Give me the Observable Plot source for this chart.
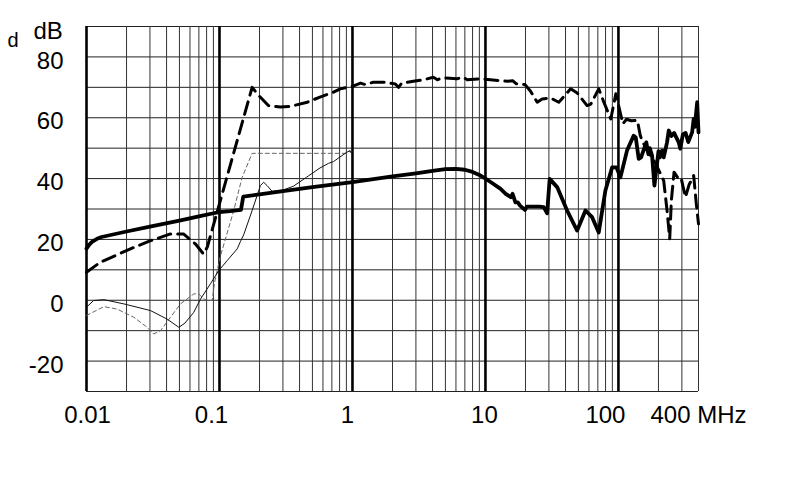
<!DOCTYPE html>
<html>
<head>
<meta charset="utf-8">
<script src="https://cdn.jsdelivr.net/npm/d3@7"></script>
<script src="https://cdn.jsdelivr.net/npm/@observablehq/plot@0.6"></script>
<style>
  html, body { margin: 0; padding: 0; background: #fff; }
  #chart { width: 790px; height: 483px; }
</style>
</head>
<body>
<div id="chart"></div>
<script>
// ---------- data ----------
const xTicks = [0.01, 0.1, 1, 10, 100, 400];
const xTickLabels = ["0.01", "0.1", "1", "10", "100", "400 MHz"];
const yTicks = [-20, 0, 20, 40, 60, 80];
const yTickLabels = ["-20", "0", "20", "40", "60", "80"];
const yUnit = "dB";
const cornerLetter = "d";

// thick solid curve
const thickSolidF  = [0.01, 0.0105, 0.011, 0.012, 0.013, 0.02, 0.03, 0.05, 0.07, 0.09, 0.1, 0.12, 0.145, 0.151, 0.2, 0.3, 0.5, 1, 2, 3, 4, 5, 6, 7, 8, 9, 10, 11, 13, 14.2, 15.5, 16, 16.8, 17.5, 18.2, 19.8, 20.5, 22, 25.5, 27.4, 29.1, 30.4, 34.6, 41.1, 48.9, 56.5, 63.4, 71.1, 79.8, 89.7, 96.6, 103.5, 116, 130, 135, 142, 148, 162, 168, 172, 179, 186.5, 195, 200, 205, 213, 219, 232, 239, 250, 262, 284, 292, 305, 320, 335, 358, 368, 375, 391, 400];
const thickSolidDb = [17, 18.3, 19.2, 20.2, 20.8, 22.6, 24.2, 26.2, 27.6, 28.6, 29.0, 29.3, 29.7, 34.1, 34.8, 35.9, 37.2, 38.8, 40.7, 41.7, 42.5, 43.1, 43.2, 42.9, 42.2, 41.2, 40.0, 38.8, 36.6, 35.0, 33.9, 35.0, 32.2, 32.2, 31.1, 29.7, 30.8, 30.8, 30.8, 30.6, 28.6, 39.9, 37.2, 29.5, 22.9, 29.5, 27.3, 22.3, 36.1, 43.7, 43.7, 40.4, 49.2, 54.1, 53.5, 46.5, 47.0, 51.9, 48.0, 50.0, 47.6, 37.7, 44.8, 49.0, 47.0, 49.2, 47.0, 51.9, 55.8, 54.0, 55.0, 51.9, 49.8, 54.5, 55.0, 52.0, 55.2, 59.6, 57.0, 65.1, 55.2];

// thick dashed curve
const thickDashF  = [0.01, 0.0127, 0.0214, 0.03, 0.0428, 0.0536, 0.066, 0.0758, 0.081, 0.176, 0.192, 0.233, 0.287, 0.34, 0.457, 0.57, 0.72, 0.81, 1.02, 1.15, 1.25, 1.44, 1.72, 2.1, 2.22, 2.35, 2.87, 3.44, 4.06, 4.35, 4.76, 6.1, 6.8, 7.3, 9.2, 10.9, 14.6, 16, 17, 19.8, 21.7, 24.5, 26.7, 30.9, 35.6, 43.7, 49, 58.1, 62, 71.1, 77.7, 87.6, 95.6, 108, 115, 125, 139, 146, 160, 190, 219, 232, 243, 250, 262, 278, 295, 319, 340, 368, 385, 400];
const thickDashDb = [9.2, 12.5, 16.9, 19.5, 21.8, 21.8, 18.5, 15.2, 17.5, 70.0, 67.9, 64.0, 63.5, 63.7, 65.1, 66.8, 68.4, 69.5, 70.5, 71.4, 70.9, 71.7, 71.7, 71.1, 70.0, 71.4, 72.0, 72.5, 73.3, 72.5, 73.1, 72.8, 73.3, 72.5, 72.8, 72.5, 72.0, 72.2, 71.2, 70.9, 68.9, 65.1, 66.2, 66.5, 65.1, 69.5, 68.1, 64.0, 64.5, 69.5, 65.1, 59.6, 67.9, 58.0, 59.5, 59.0, 59.1, 54.1, 50.0, 45.0, 39.3, 29.5, 20.2, 32.8, 42.1, 40.4, 40.5, 33.9, 38.0, 41.0, 31.7, 25.1];

// thin solid curve
const thinSolidF  = [0.01, 0.0113, 0.0135, 0.0191, 0.0303, 0.0404, 0.0495, 0.055, 0.064, 0.072, 0.0855, 0.0986, 0.114, 0.136, 0.144, 0.152, 0.176, 0.203, 0.215, 0.228, 0.249, 0.3, 0.36, 0.45, 0.57, 0.66, 0.72, 0.8, 0.91, 0.96, 0.98, 1.0];
const thinSolidDb = [-2.3, -0.1, 0.2, -1.2, -3.4, -6.2, -8.9, -7.5, -4.0, 0.4, 5.4, 9.7, 13.0, 16.9, 19.4, 21.5, 29.5, 37.7, 38.8, 37.7, 35.8, 36.2, 37.5, 40.4, 43.5, 45.0, 45.6, 47.0, 48.7, 49.2, 48.5, 49.0];

// thin dashed curve
const thinDashF  = [0.01, 0.0135, 0.017, 0.0227, 0.0286, 0.032, 0.036, 0.0428, 0.0509, 0.0641, 0.0698, 0.0761, 0.083, 0.0882, 0.092, 0.101, 0.128, 0.148, 0.176, 0.5, 0.91, 0.94, 0.97, 1.0];
const thinDashDb = [-5.0, -2.1, -2.9, -5.6, -8.9, -11.1, -10.0, -5.6, -1.2, 2.1, 2.1, 0.4, -0.1, 0.0, 6.0, 14.1, 29.5, 40.4, 48.3, 48.3, 48.3, 49.0, 48.6, 48.8];

// ---------- grid values ----------
const majorX = [0.01, 0.1, 1, 10, 100];
const minorX = [];
for (const dec of [0.01, 0.1, 1, 10]) for (let k = 2; k <= 9; k++) minorX.push(+(dec * k).toPrecision(3));
minorX.push(200, 300, 400);
const gridY = d3.range(-30, 91, 10);

// ---------- styles ----------
const font = "'Liberation Sans', Arial, Helvetica, sans-serif";
const xLabelDx = [1, -8, -5, -1, -13, 0];

const toRows = (fs, vs) => fs.map((f, i) => ({f, v: vs[i]}));

const marks = [
  Plot.ruleY(gridY, {stroke: "#222", strokeWidth: 1}),
  Plot.ruleX(minorX, {stroke: "#333", strokeWidth: 1}),
  Plot.ruleX(majorX, {stroke: "#000", strokeWidth: 2.6}),
  Plot.line(toRows(thinDashF, thinDashDb), {x: "f", y: "v", stroke: "#666", strokeWidth: 1, strokeDasharray: "4,3"}),
  Plot.line(toRows(thinSolidF, thinSolidDb), {x: "f", y: "v", stroke: "#111", strokeWidth: 1}),
  Plot.line(toRows(thickDashF, thickDashDb), {x: "f", y: "v", stroke: "#000", strokeWidth: 3, strokeDasharray: "13,7"}),
  Plot.line(toRows(thickSolidF, thickSolidDb), {x: "f", y: "v", stroke: "#000", strokeWidth: 3.8, strokeLinejoin: "round"}),
  Plot.text(yTicks, {y: d => d, text: (d, i) => yTickLabels[i], frameAnchor: "left", dx: -23, dy: 4, textAnchor: "end", lineAnchor: "middle", fontSize: 24, fill: "#000"}),
  Plot.text([yUnit], {text: d => d, frameAnchor: "top-left", dx: -53, dy: 12, textAnchor: "start", lineAnchor: "bottom", fontSize: 24, fill: "#000"}),
  Plot.text([cornerLetter], {text: d => d, frameAnchor: "top-left", dx: -79, dy: 20, textAnchor: "start", lineAnchor: "bottom", fontSize: 20, fill: "#000"})
];
xTicks.forEach((t, i) => {
  marks.push(Plot.text([t], {x: d => d, text: () => xTickLabels[i], frameAnchor: "bottom", dy: 14, dx: xLabelDx[i], textAnchor: "middle", lineAnchor: "top", fontSize: 24, fill: "#000"}));
});

const chart = Plot.plot({
  width: 790,
  height: 483,
  marginLeft: 86,
  marginRight: 92,
  marginTop: 26,
  marginBottom: 92,
  x: {type: "log", domain: [0.01, 400], axis: null},
  y: {domain: [-30, 90], axis: null},
  style: {fontFamily: font, background: "#fff", color: "#000"},
  marks
});
document.getElementById("chart").appendChild(chart);
</script>
</body>
</html>
